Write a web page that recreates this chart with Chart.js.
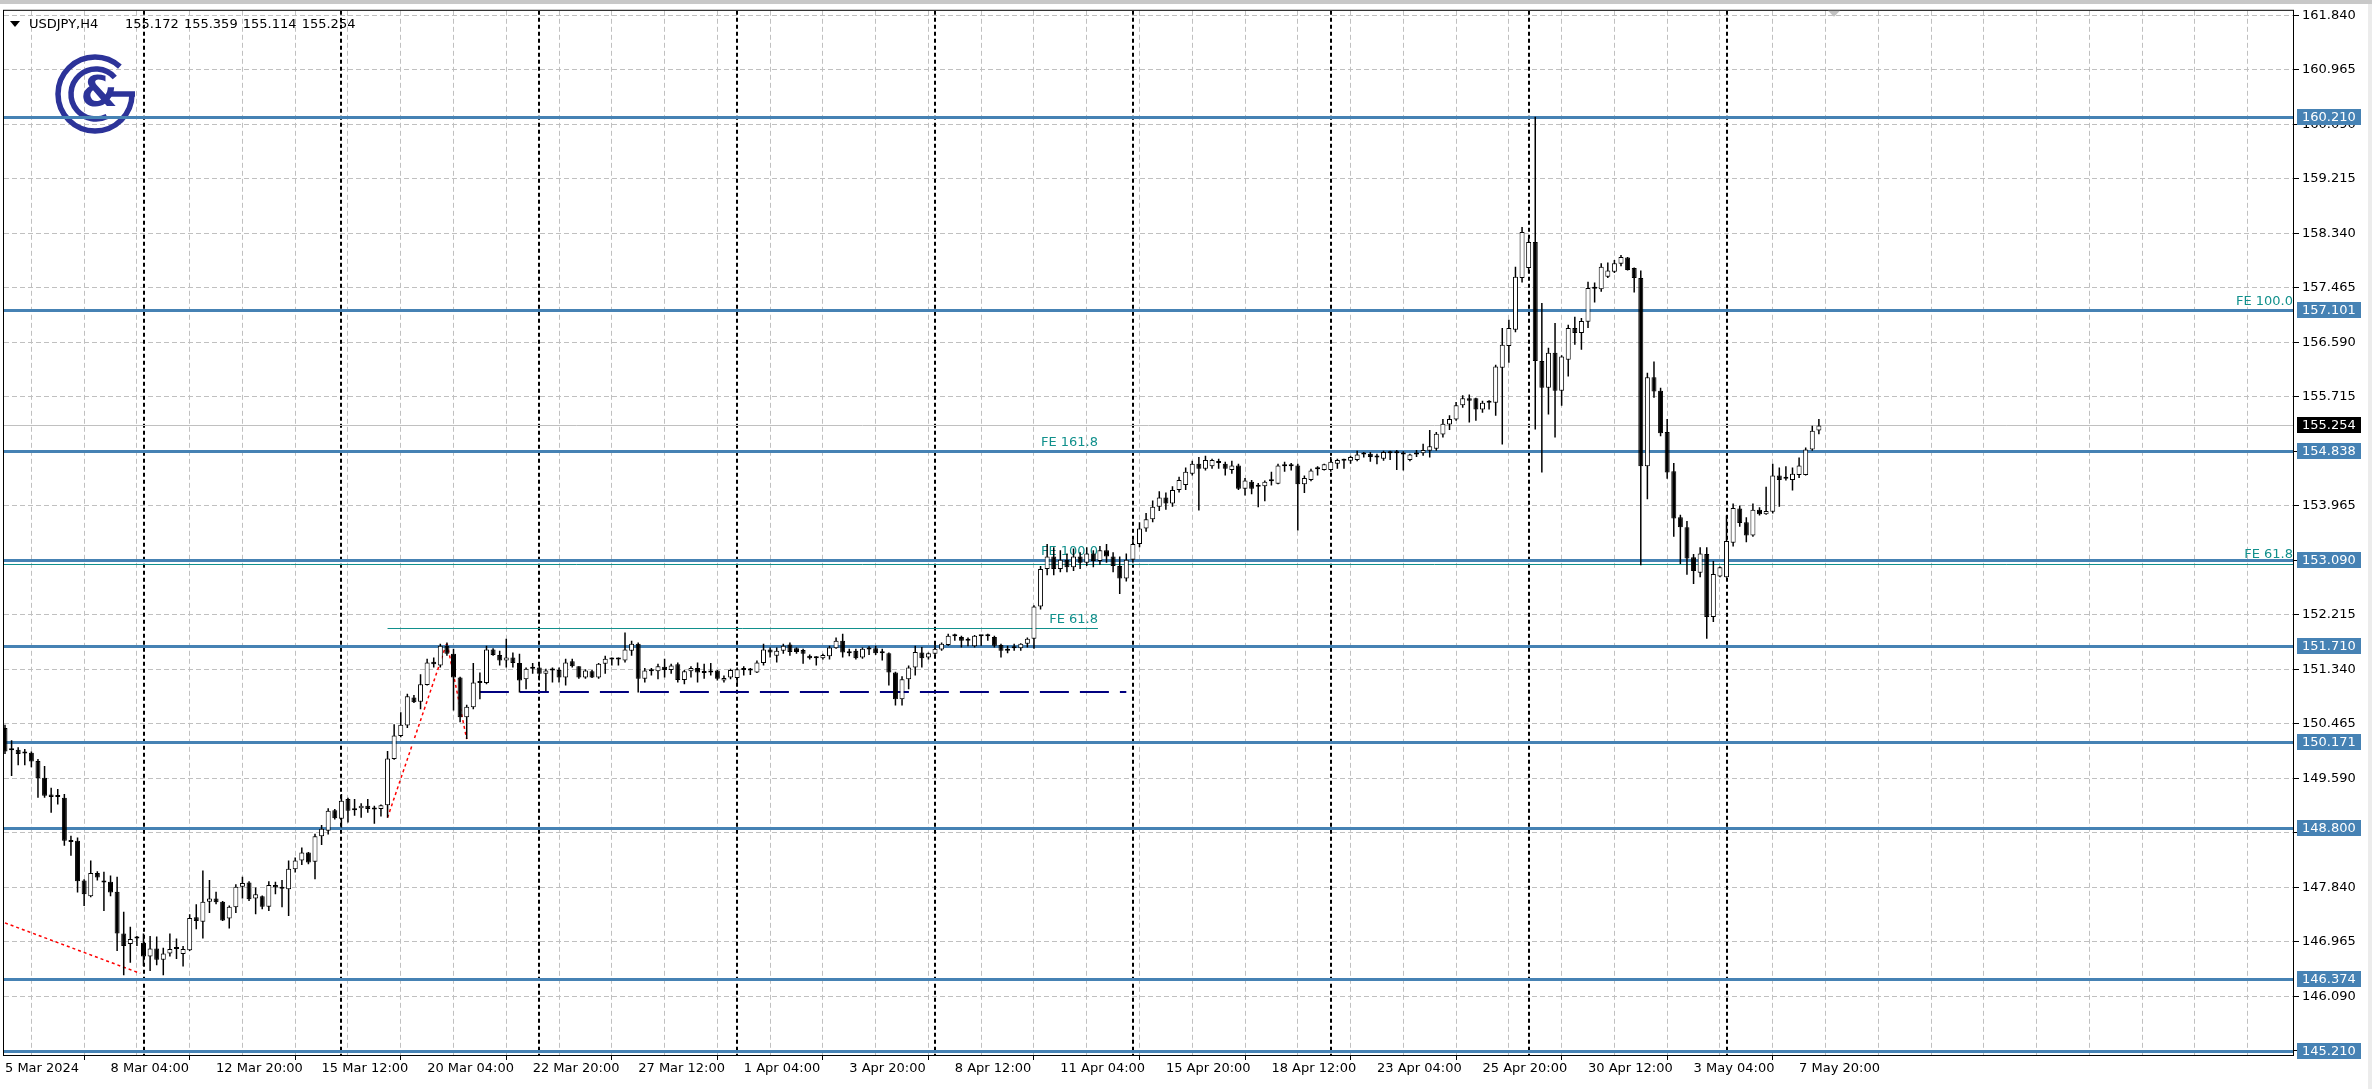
<!DOCTYPE html>
<html>
<head>
<meta charset="utf-8">
<script src="https://cdn.jsdelivr.net/npm/chart.js@4.4.1/dist/chart.umd.min.js"></script>
<style>
  html, body { margin: 0; padding: 0; background: #fff; }
  canvas { display: block; }
</style>
</head>
<body>
<canvas id="chart" width="2372" height="1089" style="width:2372px;height:1089px"></canvas>
<script>
// USDJPY H4 candles, 5 Mar 2024 12:00 .. 8 May 2024 04:00
const opens = [
  150.40,150.06,150.05,149.99,150.00,149.87,149.60,149.33,149.31,149.28,
  148.60,148.59,147.95,147.70,148.07,147.93,147.93,147.77,147.10,146.93,
  147.02,146.95,146.73,146.86,146.68,146.78,146.85,146.77,146.83,147.36,
  147.29,147.61,147.66,147.61,147.34,147.52,147.85,147.92,147.66,147.70,
  147.53,147.88,147.82,147.81,148.13,148.27,148.40,148.25,148.66,148.75,
  149.08,148.94,149.26,149.11,149.11,149.15,149.10,149.10,149.16,149.90,
  150.27,150.44,150.89,150.82,151.09,151.46,151.40,151.72,151.59,151.21,
  150.57,150.73,151.13,151.12,151.66,151.57,151.48,151.53,151.44,151.18,
  151.35,151.37,151.27,151.32,151.33,151.21,151.47,151.39,151.21,151.31,
  151.21,151.43,151.51,151.50,151.48,151.64,151.75,151.19,151.31,151.31,
  151.38,151.33,151.42,151.17,151.31,151.36,151.29,151.29,151.32,151.16,
  151.21,151.20,151.34,151.33,151.29,151.44,151.66,151.56,151.64,151.74,
  151.68,151.65,151.56,151.53,151.52,151.55,151.68,151.80,151.63,151.64,
  151.53,151.67,151.68,151.61,151.60,151.29,150.86,151.18,151.37,151.61,
  151.53,151.59,151.66,151.73,151.88,151.86,151.81,151.71,151.88,151.88,
  151.86,151.73,151.67,151.69,151.68,151.75,151.83,152.35,152.95,153.15,
  152.95,153.10,152.98,153.15,153.05,153.20,153.08,153.25,153.15,153.00,
  152.80,153.10,153.35,153.60,153.75,153.95,154.10,154.00,154.22,154.30,
  154.48,154.64,154.56,154.60,154.68,154.64,154.54,154.61,154.24,154.35,
  154.29,154.28,154.36,154.32,154.60,154.61,154.61,154.31,154.38,154.55,
  154.54,154.54,154.64,154.70,154.69,154.70,154.79,154.80,154.76,154.72,
  154.81,154.81,154.80,154.70,154.79,154.81,154.85,154.88,155.11,155.27,
  155.35,155.58,155.69,155.69,155.51,155.62,155.62,156.18,156.53,156.79,
  157.62,157.78,158.20,156.29,155.86,156.42,155.81,156.31,156.82,156.74,
  156.92,157.45,157.44,157.64,157.72,157.85,157.95,157.78,157.62,154.60,
  156.03,155.81,155.15,154.52,153.78,153.62,153.14,152.89,153.19,152.18,
  152.83,152.82,153.37,153.92,153.70,153.49,153.90,153.83,153.87,154.45,
  154.41,154.38,154.46,154.46,154.87,155.172
];
const highs = [
  150.45,150.20,150.09,150.06,150.02,149.90,149.79,149.44,149.42,149.34,
  148.67,148.64,147.97,148.27,148.10,148.09,148.03,148.01,147.45,147.21,
  147.06,147.10,147.06,147.05,146.87,147.10,147.02,146.90,147.41,147.57,
  148.11,147.96,147.77,147.62,147.55,147.89,148.01,147.94,147.84,147.71,
  147.94,147.93,147.96,148.27,148.32,148.48,148.41,148.70,148.84,149.11,
  149.10,149.34,149.28,149.26,149.19,149.26,149.15,149.17,150.03,150.46,
  150.65,150.95,150.93,151.26,151.51,151.53,151.75,151.77,151.67,151.22,
  150.77,151.44,151.29,151.72,151.68,151.64,151.83,151.61,151.59,151.37,
  151.44,151.41,151.35,151.37,151.37,151.51,151.51,151.39,151.34,151.33,
  151.44,151.56,151.53,151.53,151.93,151.80,151.77,151.36,151.36,151.43,
  151.51,151.43,151.45,151.33,151.39,151.45,151.43,151.44,151.33,151.24,
  151.35,151.37,151.39,151.36,151.48,151.75,151.69,151.69,151.75,151.77,
  151.69,151.67,151.58,151.55,151.59,151.72,151.85,151.91,151.67,151.67,
  151.69,151.71,151.72,151.67,151.61,151.30,151.23,151.40,151.72,151.70,
  151.61,151.75,151.77,151.91,151.91,151.88,151.85,151.89,151.89,151.91,
  151.88,151.75,151.72,151.75,151.76,151.85,152.37,153.00,153.35,153.30,
  153.25,153.20,153.28,153.22,153.30,153.25,153.32,153.35,153.22,153.15,
  153.20,153.42,153.70,153.85,154.05,154.20,154.18,154.28,154.43,154.58,
  154.69,154.75,154.77,154.72,154.72,154.67,154.69,154.64,154.41,154.38,
  154.33,154.37,154.51,154.64,154.67,154.65,154.64,154.45,154.56,154.60,
  154.64,154.75,154.72,154.72,154.77,154.85,154.83,154.83,154.80,154.85,
  154.85,154.86,154.84,154.80,154.86,154.96,155.18,155.15,155.36,155.42,
  155.63,155.74,155.75,155.70,155.65,155.66,156.23,156.82,156.95,157.80,
  158.44,158.26,160.21,157.22,156.50,156.90,156.38,156.87,157.00,156.98,
  157.56,157.55,157.86,157.87,157.91,157.99,157.96,157.79,157.74,156.10,
  156.28,155.86,155.36,154.65,153.82,153.72,153.19,153.30,153.30,153.08,
  152.99,153.81,154.00,153.97,153.78,154.00,153.94,154.27,154.64,154.58,
  154.60,154.58,154.74,154.90,155.25,155.359
];
const lows = [
  149.98,149.63,149.80,149.80,149.77,149.28,149.28,149.04,149.17,148.51,
  148.35,147.76,147.54,147.68,147.95,147.46,147.70,146.82,146.43,146.63,
  146.90,146.58,146.50,146.59,146.43,146.73,146.69,146.57,146.82,147.17,
  147.02,147.43,147.57,147.30,147.18,147.43,147.66,147.62,147.41,147.49,
  147.46,147.73,147.52,147.38,148.08,148.20,148.21,147.97,148.52,148.69,
  148.93,148.80,148.88,148.99,148.96,149.04,148.86,148.98,148.96,149.89,
  150.25,150.40,150.80,150.70,151.08,151.37,151.37,151.56,150.68,150.49,
  150.22,150.70,150.86,151.10,151.56,151.40,151.37,151.37,150.97,151.02,
  151.27,151.16,150.99,151.13,151.13,151.08,151.37,151.19,151.19,151.20,
  151.19,151.27,151.40,151.40,151.45,151.56,150.97,151.13,151.24,151.18,
  151.21,151.27,151.13,151.10,151.21,151.13,151.19,151.24,151.16,151.13,
  151.18,151.10,151.24,151.25,151.28,151.40,151.53,151.45,151.59,151.56,
  151.59,151.43,151.50,151.40,151.50,151.50,151.67,151.53,151.55,151.50,
  151.51,151.57,151.57,151.48,151.08,150.76,150.76,151.02,151.24,151.37,
  151.50,151.53,151.64,151.72,151.80,151.69,151.71,151.69,151.72,151.80,
  151.69,151.53,151.60,151.64,151.64,151.69,151.67,152.30,152.85,152.85,
  152.90,152.90,152.92,152.95,153.00,152.98,153.02,153.05,152.90,152.55,
  152.75,153.05,153.30,153.55,153.70,153.88,153.90,153.95,154.18,154.22,
  154.45,153.89,154.53,154.56,154.56,154.45,154.48,154.22,154.13,154.15,
  153.94,154.04,154.29,154.31,154.51,154.53,153.57,154.17,154.36,154.45,
  154.53,154.51,154.56,154.56,154.64,154.68,154.74,154.67,154.63,154.69,
  154.70,154.54,154.53,154.68,154.75,154.77,154.74,154.85,155.06,155.18,
  155.33,155.54,155.30,155.33,155.46,155.51,155.41,154.95,156.26,156.75,
  157.55,157.70,155.19,154.50,155.43,155.06,155.57,156.04,156.55,156.47,
  156.82,157.23,157.40,157.62,157.70,157.81,157.74,157.39,153.01,154.07,
  155.70,155.08,154.40,153.47,153.03,152.86,152.71,152.82,151.83,152.10,
  152.82,152.81,153.31,153.63,153.38,153.47,153.81,153.82,153.84,153.95,
  154.37,154.21,154.41,154.45,154.85,155.114
];
const closes = [
  150.02,150.04,149.98,150.00,149.86,149.59,149.31,149.29,149.29,148.59,
  148.57,147.94,147.73,148.07,148.00,147.92,147.76,147.10,146.90,147.01,
  147.04,146.73,146.86,146.68,146.78,146.85,146.88,146.85,147.35,147.30,
  147.61,147.66,147.60,147.31,147.53,147.85,147.91,147.65,147.73,147.53,
  147.88,147.84,147.83,148.14,148.27,148.40,148.24,148.66,148.78,149.07,
  148.95,149.23,149.07,149.08,149.15,149.10,149.09,149.16,149.91,150.28,
  150.45,150.91,150.81,151.10,151.45,151.42,151.72,151.59,151.21,150.57,
  150.74,151.13,151.12,151.66,151.57,151.48,151.53,151.44,151.16,151.35,
  151.36,151.27,151.32,151.33,151.21,151.45,151.39,151.21,151.32,151.21,
  151.43,151.51,151.50,151.51,151.66,151.75,151.19,151.32,151.32,151.39,
  151.33,151.40,151.17,151.31,151.36,151.29,151.28,151.30,151.19,151.20,
  151.33,151.34,151.33,151.32,151.45,151.66,151.61,151.64,151.72,151.62,
  151.62,151.59,151.52,151.52,151.57,151.69,151.80,151.61,151.60,151.52,
  151.67,151.66,151.60,151.60,151.29,150.86,151.18,151.37,151.62,151.52,
  151.60,151.67,151.75,151.88,151.87,151.80,151.80,151.88,151.87,151.87,
  151.72,151.64,151.64,151.68,151.75,151.83,152.35,152.95,153.15,152.95,
  153.10,152.98,153.15,153.05,153.20,153.08,153.25,153.15,153.00,152.80,
  153.10,153.35,153.60,153.75,153.95,154.10,154.00,154.22,154.38,154.51,
  154.64,154.56,154.70,154.70,154.65,154.56,154.61,154.24,154.37,154.24,
  154.27,154.35,154.37,154.61,154.61,154.60,154.31,154.41,154.53,154.56,
  154.63,154.67,154.70,154.69,154.75,154.79,154.80,154.75,154.74,154.83,
  154.82,154.82,154.79,154.79,154.81,154.86,154.92,155.12,155.28,155.36,
  155.58,155.69,155.65,155.51,155.62,155.63,156.20,156.55,156.82,157.64,
  158.36,158.20,156.29,155.86,156.42,155.81,156.36,156.82,156.74,156.93,
  157.46,157.46,157.80,157.74,157.86,157.96,157.75,157.62,154.60,156.03,
  155.80,155.13,154.50,153.76,153.62,153.12,152.92,153.20,152.18,152.87,
  152.98,153.40,153.93,153.69,153.49,153.90,153.83,153.88,154.45,154.38,
  154.40,154.48,154.61,154.87,155.17,155.254
];

// time axis labels, one every 16 bars
const timeLabels = [
  '5 Mar 2024', '8 Mar 04:00', '12 Mar 20:00', '15 Mar 12:00', '20 Mar 04:00',
  '22 Mar 20:00', '27 Mar 12:00', '1 Apr 04:00', '3 Apr 20:00', '8 Apr 12:00',
  '11 Apr 04:00', '15 Apr 20:00', '18 Apr 12:00', '23 Apr 04:00', '25 Apr 20:00',
  '30 Apr 12:00', '3 May 04:00', '7 May 20:00'
];
const priceTicks = [
  145.215, 146.090, 146.965, 147.840, 148.715, 149.590, 150.465, 151.340,
  152.215, 153.090, 153.965, 154.840, 155.715, 156.590, 157.465, 158.340,
  159.215, 160.090, 160.965, 161.840
];

// horizontal levels drawn on the chart
const levels = [160.210, 157.101, 154.838, 153.090, 151.710, 150.171, 148.800, 146.374, 145.210];
const lastPrice = 155.254;
const weekStartBars = [21, 51, 81, 111, 141, 171, 201, 231, 261];

// fibo expansion (left) and its A-B-C legs
const feLeftNames = ['FE 61.8', 'FE 100.0', 'FE 161.8'];
const feLeftLevels = [152.00, 153.09, 154.84];
const feLeftFrom = 58;
const feLeftTo = 165.7;
const legBars = [58, 67, 70];
const legPrices = [148.96, 151.77, 150.22];
const oldLegBars = [0, 20.5];
const oldLegPrices = [147.27, 146.46];
// fibo expansion (right), only the texts show next to the levels
const feRightNames = ['FE 61.8', 'FE 100.0'];
const feRightLevels = [153.05, 157.10];
// dashed support
const supportPrice = 150.97;
const supportFrom = 72;
const supportTo = 170;

const symbolName = 'USDJPY,H4';
const last = closes.length - 1;

const blue = '#4682b4';
const teal = '#11908c';
const font13 = '13px "DejaVu Sans"';

function timeLabelFor(v) {
  if (v % 16 === 0 && v / 16 < timeLabels.length) return timeLabels[v / 16];
  return '';
}

function drawLogo(ctx) {
  const cx = 95, cy = 94;
  ctx.save();
  ctx.strokeStyle = '#2c3399';
  ctx.fillStyle = '#2c3399';
  ctx.lineWidth = 5.5;
  ctx.beginPath();
  ctx.arc(cx, cy, 37, 0, 5.45);
  ctx.stroke();
  ctx.beginPath();
  ctx.moveTo(cx + 13, cy);
  ctx.lineTo(cx + 40, cy);
  ctx.stroke();
  ctx.beginPath();
  ctx.arc(cx + 1, cy, 25, -0.72, 1.12, true);
  ctx.stroke();
  ctx.font = 'bold 42px "DejaVu Sans"';
  ctx.textAlign = 'center';
  ctx.textBaseline = 'middle';
  ctx.fillText('&', cx + 4, cy + 1);
  ctx.restore();
}

function hline(ctx, x0, x1, py) {
  ctx.beginPath();
  ctx.moveTo(x0, py);
  ctx.lineTo(x1, py);
  ctx.stroke();
}

const overlays = {
  id: 'overlays',
  beforeDatasetsDraw(chart) {
    const { ctx, chartArea: a, scales: { x, y } } = chart;
    ctx.save();
    ctx.beginPath();
    ctx.rect(a.left, a.top, a.right - a.left, a.bottom - a.top);
    ctx.clip();

    drawLogo(ctx);

    // symbol and OHLC of the last bar
    ctx.fillStyle = '#000';
    ctx.beginPath();
    ctx.moveTo(10, 21); ctx.lineTo(20, 21); ctx.lineTo(15, 27);
    ctx.closePath();
    ctx.fill();
    ctx.font = font13;
    ctx.textAlign = 'left';
    ctx.textBaseline = 'alphabetic';
    ctx.fillText(symbolName, 29, 28);
    let hx = 125;
    [opens[last], highs[last], lows[last], closes[last]].forEach(v => {
      const s = v.toFixed(3);
      ctx.fillText(s, hx, 28);
      hx += ctx.measureText(s + ' ').width + 1;
    });

    // week separators
    ctx.strokeStyle = '#000';
    ctx.lineWidth = 2;
    ctx.setLineDash([4, 3]);
    weekStartBars.forEach(b => {
      const px = Math.round(x.getPixelForValue(b));
      ctx.beginPath();
      ctx.moveTo(px, a.top);
      ctx.lineTo(px, a.bottom);
      ctx.stroke();
    });
    ctx.setLineDash([]);

    // fibo expansion lines and texts
    ctx.strokeStyle = teal;
    ctx.fillStyle = teal;
    ctx.lineWidth = 1;
    ctx.font = font13;
    ctx.textAlign = 'right';
    ctx.textBaseline = 'bottom';
    const fx0 = x.getPixelForValue(feLeftFrom), fx1 = x.getPixelForValue(feLeftTo);
    feLeftLevels.forEach((lv, i) => {
      const py = Math.round(y.getPixelForValue(lv)) + 0.5;
      hline(ctx, fx0, fx1, py);
      ctx.fillText(feLeftNames[i], fx1, py - 2);
    });
    feRightLevels.forEach((lv, i) => {
      const py = Math.round(y.getPixelForValue(lv)) + 0.5;
      if (i === 0) hline(ctx, a.left, a.right, py + 1);
      ctx.fillText(feRightNames[i], a.right, py - 2);
    });

    // dashed support
    ctx.strokeStyle = '#00007f';
    ctx.lineWidth = 2;
    ctx.setLineDash([29, 11]);
    hline(ctx, x.getPixelForValue(supportFrom), x.getPixelForValue(supportTo), Math.round(y.getPixelForValue(supportPrice)));

    // red dotted legs
    ctx.strokeStyle = '#ff0000';
    ctx.lineWidth = 1.5;
    ctx.setLineDash([3, 3]);
    [[oldLegBars, oldLegPrices], [legBars, legPrices]].forEach(([bs, ps]) => {
      ctx.beginPath();
      bs.forEach((b, i) => {
        const px = x.getPixelForValue(b), py = y.getPixelForValue(ps[i]);
        if (i === 0) ctx.moveTo(px, py); else ctx.lineTo(px, py);
      });
      ctx.stroke();
    });
    ctx.setLineDash([]);

    // horizontal levels
    ctx.strokeStyle = blue;
    ctx.lineWidth = 3;
    levels.forEach(lv => hline(ctx, a.left, a.right, Math.round(y.getPixelForValue(lv)) + 0.5));

    // last price line
    ctx.strokeStyle = '#c0c0c0';
    ctx.lineWidth = 1;
    hline(ctx, a.left, a.right, Math.round(y.getPixelForValue(lastPrice)) + 0.5);

    ctx.restore();
  },
  afterDraw(chart) {
    const { ctx, chartArea: a, scales: { y } } = chart;
    ctx.save();
    // window strip on top and right
    ctx.fillStyle = '#c8c8c8';
    ctx.fillRect(0, 0, chart.width, 4);
    ctx.fillStyle = '#ececec';
    ctx.fillRect(2368, 4, 4, chart.height - 4);

    // frame
    ctx.strokeStyle = '#000';
    ctx.lineWidth = 1;
    ctx.strokeRect(a.left - 0.5, a.top - 0.5, a.right - a.left + 1, a.bottom - a.top + 1);

    // chart shift marker
    ctx.fillStyle = '#c0c0c0';
    ctx.beginPath();
    ctx.moveTo(1828, a.top); ctx.lineTo(1840, a.top); ctx.lineTo(1834, a.top + 6);
    ctx.closePath();
    ctx.fill();

    // price boxes on the axis
    ctx.font = font13;
    ctx.textAlign = 'left';
    ctx.textBaseline = 'middle';
    const box = (price, bg) => {
      const py = Math.round(y.getPixelForValue(price));
      ctx.fillStyle = bg;
      ctx.fillRect(a.right + 4, py - 8, 64, 16);
      ctx.fillStyle = '#fff';
      ctx.fillText(price.toFixed(3), a.right + 9, py + 0.5);
    };
    levels.forEach(lv => box(lv, blue));
    box(lastPrice, '#000');
    ctx.restore();
  }
};

new Chart(document.getElementById('chart'), {
  type: 'bar',
  data: {
    datasets: [
      {
        label: 'body',
        data: opens.map((o, i) => ({ x: i, y: [o, closes[i]] })),
        backgroundColor: c => (c.raw && c.raw.y[1] >= c.raw.y[0]) ? '#ffffff' : '#000000',
        borderColor: '#000000',
        borderWidth: 1,
        borderSkipped: false,
        barThickness: 5,
        minBarLength: 2,
        inflateAmount: 0,
        grouped: false,
        order: 0
      },
      {
        label: 'wick',
        data: lows.map((l, i) => ({ x: i, y: [l, highs[i]] })),
        backgroundColor: '#000000',
        borderWidth: 0,
        barThickness: 1.5,
        inflateAmount: 0,
        grouped: false,
        order: 1
      }
    ]
  },
  options: {
    responsive: false,
    animation: false,
    devicePixelRatio: 1,
    layout: {
      autoPadding: false,
      padding: { left: 4, top: 10, right: 0, bottom: 0 }
    },
    plugins: {
      legend: { display: false },
      tooltip: { enabled: false }
    },
    scales: {
      x: {
        type: 'linear',
        min: -0.15,
        max: 346.88,
        offset: false,
        afterBuildTicks: scale => {
          const t = [];
          for (let v = 0; v <= scale.max; v += 8) t.push({ value: v });
          scale.ticks = t;
        },
        afterFit: scale => { scale.height = 34; },
        border: { display: false, dash: [5, 3] },
        grid: {
          color: '#c0c0c0',
          lineWidth: 1,
          tickLength: 5,
          tickColor: c => (c.tick && timeLabelFor(c.tick.value)) ? '#000000' : 'rgba(0,0,0,0)',
          tickBorderDash: []
        },
        ticks: {
          font: { family: 'DejaVu Sans', size: 13 },
          color: '#000',
          padding: 1,
          maxRotation: 0,
          autoSkip: false,
          align: 'start',
          callback: v => timeLabelFor(v)
        }
      },
      y: {
        type: 'linear',
        position: 'right',
        min: 145.15,
        max: 161.91,
        afterBuildTicks: scale => {
          scale.ticks = priceTicks.map(v => ({ value: v }));
        },
        afterFit: scale => { scale.width = 79; },
        border: { display: false, dash: [5, 3] },
        grid: {
          color: '#c0c0c0',
          lineWidth: 1,
          tickLength: 6,
          tickColor: '#000000',
          tickBorderDash: []
        },
        ticks: {
          font: { family: 'DejaVu Sans', size: 13 },
          color: '#000',
          padding: 3,
          callback: v => v.toFixed(3)
        }
      }
    }
  },
  plugins: [overlays]
});
</script>
</body>
</html>
